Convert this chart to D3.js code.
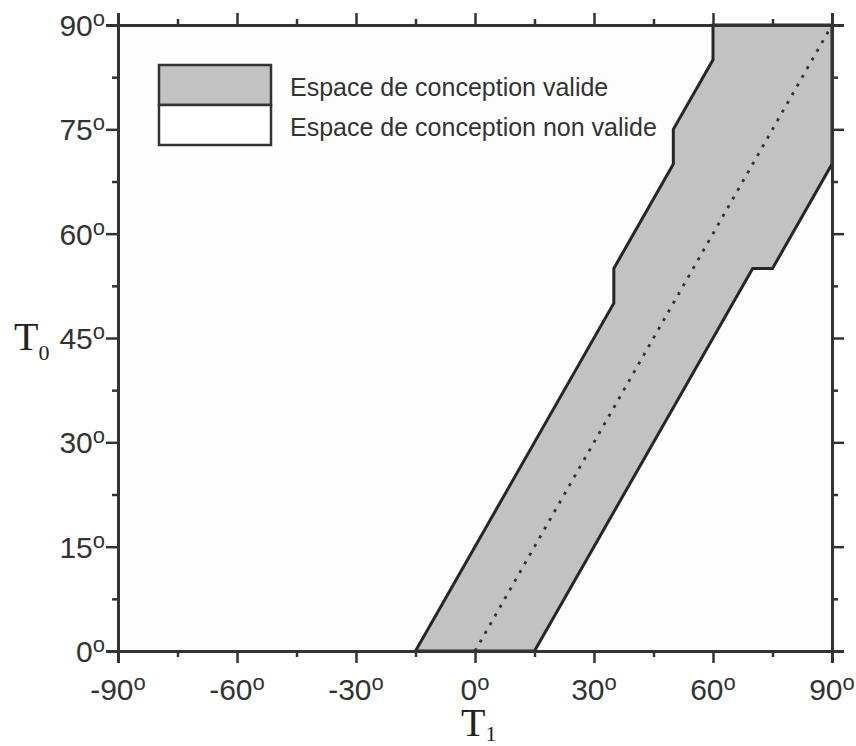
<!DOCTYPE html>
<html lang="fr">
<head>
    <meta charset="UTF-8">
    <title>Espace de conception</title>
    <script src="https://d3js.org/d3.v7.min.js"></script>
    <style>
        body {
            margin: 0;
            background: #fff;
        }
        .tick-label {
            font-family: 'Liberation Sans', Arial, sans-serif;
            fill: #333;
        }
        .axis-title {
            font-family: 'Liberation Serif', 'Times New Roman', serif;
            fill: #222;
        }
        .legend-text {
            font-family: 'Liberation Sans', Arial, sans-serif;
            font-size: 25px;
            fill: #333;
        }
    </style>
</head>
<body>
    <svg width="856" height="746" id="chart"></svg>

    <script>
        // boundary of the valid design space (T1, T0) in degrees
        const validT1 = [-15, 35, 35, 50, 50, 60, 60, 90, 90, 75, 70, 15];
        const validT0 = [0, 50, 55, 70, 75, 85, 90, 90, 70, 55, 55, 0];

        // dotted diagonal T0 = T1
        const diagT1 = [0, 90];
        const diagT0 = [0, 90];

        const xTicks = [-90, -60, -30, 0, 30, 60, 90];
        const xMinor = [-75, -45, -15, 15, 45, 75];
        const yTicks = [0, 15, 30, 45, 60, 75, 90];
        const yMinor = [7.5, 22.5, 37.5, 52.5, 67.5, 82.5];

        const legendLabels = ["Espace de conception valide", "Espace de conception non valide"];

        const plotL = 118, plotR = 832, plotT = 25, plotB = 651;

        const svg = d3.select("#chart");
        const x = d3.scaleLinear().domain([-90, 90]).range([plotL, plotR]);
        const y = d3.scaleLinear().domain([0, 90]).range([plotB, plotT]);

        // plot background
        svg.append("rect")
            .attr("x", plotL).attr("y", plotT)
            .attr("width", plotR - plotL).attr("height", plotB - plotT)
            .attr("fill", "#fdfdfd");

        // valid region
        const pts = validT1.map((t, i) => [x(t), y(validT0[i])]);
        svg.append("path")
            .attr("d", d3.line()(pts) + "Z")
            .attr("fill", "#c2c2c2")
            .attr("stroke", "#262626")
            .attr("stroke-width", 3)
            .attr("stroke-linejoin", "miter");

        // diagonal
        svg.append("path")
            .attr("d", d3.line()(diagT1.map((t, i) => [x(t), y(diagT0[i])])))
            .attr("fill", "none")
            .attr("stroke", "#333")
            .attr("stroke-width", 2.8)
            .attr("stroke-dasharray", "3,7");

        // axes: major + minor on all four sides
        function drawAxis(axisFn, scale, ticks, size, transform) {
            const g = svg.append("g")
                .attr("transform", transform)
                .call(axisFn(scale).tickValues(ticks).tickSize(size).tickFormat(""));
            g.select(".domain").attr("stroke", "#333").attr("stroke-width", 3);
            g.selectAll(".tick line").attr("stroke", "#333").attr("stroke-width", 2.5);
            return g;
        }
        drawAxis(d3.axisBottom, x, xTicks, 12, `translate(0,${plotB})`);
        drawAxis(d3.axisBottom, x, xMinor, 6, `translate(0,${plotB})`);
        drawAxis(d3.axisTop, x, xTicks, 12, `translate(0,${plotT})`);
        drawAxis(d3.axisTop, x, xMinor, 6, `translate(0,${plotT})`);
        drawAxis(d3.axisLeft, y, yTicks, 12, `translate(${plotL},0)`);
        drawAxis(d3.axisLeft, y, yMinor, 6, `translate(${plotL},0)`);
        drawAxis(d3.axisRight, y, yTicks, 12, `translate(${plotR},0)`);
        drawAxis(d3.axisRight, y, yMinor, 6, `translate(${plotR},0)`);

        // tick labels with superscript "o"
        function degLabel(px, py, value, anchor) {
            const t = svg.append("text")
                .attr("class", "tick-label")
                .attr("text-anchor", anchor)
                .attr("x", px).attr("y", py);
            t.append("tspan").attr("font-size", 30).text(value);
            t.append("tspan").attr("font-size", 22).attr("dy", -10).text("o");
        }
        xTicks.forEach(v => degLabel(x(v), 700, v, "middle"));
        yTicks.forEach(v => degLabel(105, y(v) + 11, v, "end"));

        // axis titles
        const t1 = svg.append("text").attr("class", "axis-title")
            .attr("x", 461).attr("y", 736);
        t1.append("tspan").attr("font-size", 40).text("T");
        t1.append("tspan").attr("font-size", 22).attr("dy", 5).text("1");

        const t0 = svg.append("text").attr("class", "axis-title")
            .attr("x", 14).attr("y", 350);
        t0.append("tspan").attr("font-size", 40).text("T");
        t0.append("tspan").attr("font-size", 22).attr("dy", 10).text("0");

        // legend
        const lg = svg.append("g");
        const fills = ["#c2c2c2", "#ffffff"];
        legendLabels.forEach((label, i) => {
            lg.append("rect")
                .attr("x", 159).attr("y", 65 + i * 40)
                .attr("width", 112).attr("height", 40)
                .attr("fill", fills[i])
                .attr("stroke", "#333")
                .attr("stroke-width", 2.5);
            lg.append("text")
                .attr("class", "legend-text")
                .attr("x", 290).attr("y", 96 + i * 40)
                .text(label);
        });
    </script>
</body>
</html>
